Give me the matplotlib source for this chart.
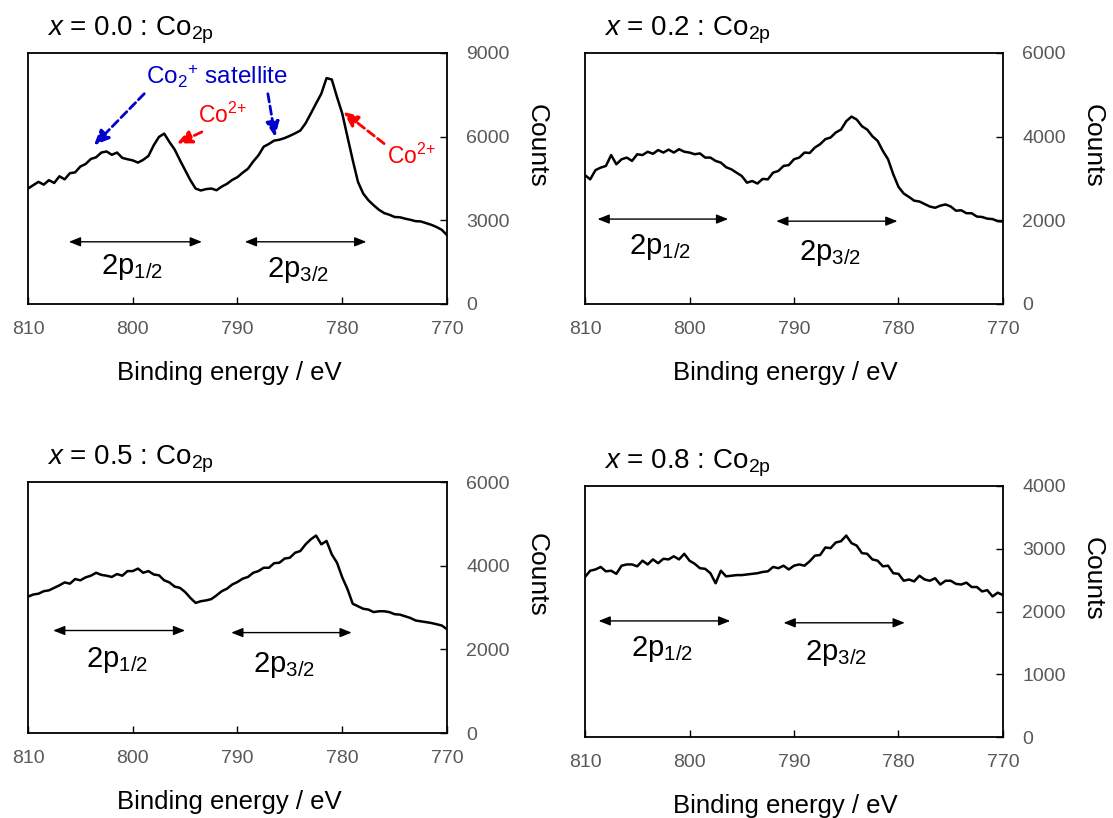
import matplotlib
matplotlib.use("Agg")
import matplotlib.pyplot as plt
import numpy as np

plt.rcParams['font.family'] = ['Liberation Sans', 'DejaVu Sans']
plt.rcParams['mathtext.fontset'] = 'custom'
plt.rcParams['mathtext.rm'] = 'Liberation Sans'
plt.rcParams['mathtext.it'] = 'Liberation Sans:italic'

# binding energy grid, 810 -> 770 eV in 0.5 eV steps
energy = np.linspace(810, 770, 81)

counts_x00 = [4140, 4260, 4380, 4280, 4440, 4340, 4580, 4470, 4690, 4720,
              4930, 5020, 5200, 5260, 5430, 5470, 5350, 5430, 5240, 5190,
              5150, 5070, 5170, 5310, 5690, 5990, 6110, 5810, 5540, 5160,
              4800, 4440, 4140, 4070, 4120, 4140, 4080, 4210, 4310, 4450,
              4550, 4710, 4850, 5110, 5330, 5640, 5740, 5860, 5890, 5950,
              6030, 6120, 6220, 6480, 6830, 7190, 7540, 8100, 8050, 7420,
              6830, 5990, 5160, 4380, 3960, 3720, 3540, 3380, 3260, 3200,
              3120, 3110, 3060, 3020, 2970, 2960, 2900, 2840, 2760, 2660,
              2470]
counts_x02 = [3080, 2980, 3200, 3260, 3300, 3560, 3340, 3460, 3500, 3420,
              3580, 3560, 3640, 3590, 3680, 3620, 3690, 3620, 3700, 3640,
              3620, 3580, 3600, 3500, 3500, 3420, 3380, 3270, 3220, 3140,
              3060, 2900, 2940, 2880, 2990, 2980, 3140, 3180, 3300, 3320,
              3460, 3500, 3620, 3610, 3740, 3820, 3940, 3980, 4100, 4170,
              4370, 4480, 4410, 4250, 4170, 4010, 3900, 3660, 3460, 3100,
              2800, 2640, 2560, 2470, 2450, 2390, 2330, 2300, 2350, 2380,
              2330, 2230, 2240, 2170, 2170, 2090, 2080, 2040, 2030, 1980,
              1970]
counts_x05 = [3260, 3310, 3330, 3390, 3410, 3470, 3530, 3600, 3570, 3680,
              3650, 3720, 3760, 3830, 3780, 3760, 3730, 3800, 3760, 3870,
              3870, 3930, 3830, 3870, 3790, 3770, 3650, 3600, 3500, 3470,
              3370, 3230, 3110, 3150, 3170, 3200, 3290, 3390, 3450, 3550,
              3610, 3690, 3730, 3830, 3870, 3950, 3950, 4060, 4070, 4170,
              4190, 4310, 4350, 4510, 4630, 4720, 4510, 4590, 4270, 4070,
              3720, 3440, 3090, 3030, 2970, 2950, 2890, 2910, 2910, 2890,
              2840, 2830, 2790, 2750, 2690, 2670, 2650, 2630, 2600, 2570,
              2480]
counts_x08 = [2550, 2650, 2670, 2710, 2640, 2650, 2600, 2730, 2750, 2750,
              2720, 2810, 2750, 2830, 2770, 2840, 2830, 2880, 2830, 2920,
              2810, 2760, 2690, 2680, 2610, 2450, 2650, 2560, 2570, 2580,
              2580, 2590, 2600, 2610, 2630, 2640, 2710, 2690, 2730, 2670,
              2730, 2750, 2730, 2800, 2890, 2900, 3020, 3010, 3100, 3120,
              3210, 3090, 3050, 2930, 2920, 2830, 2810, 2720, 2730, 2610,
              2600, 2490, 2510, 2480, 2570, 2510, 2490, 2530, 2430, 2490,
              2490, 2440, 2430, 2460, 2390, 2390, 2320, 2340, 2240, 2300,
              2260]

titles = ['0.0', '0.2', '0.5', '0.8']
ymax = [9000, 6000, 6000, 4000]
ystep = [3000, 2000, 2000, 1000]
# (start, end, y) of the 2p1/2 and 2p3/2 span arrows, and label positions
span_12 = [(806.1, 793.4, 2230), (808.8, 796.3, 2030), (807.6, 795.0, 2450), (808.7, 796.1, 1850)]
span_32 = [(789.3, 777.7, 2230), (791.7, 780.1, 1980), (790.6, 779.1, 2400), (791.0, 779.4, 1820)]
lab_12 = [(800.1, 1340), (802.8, 1370), (801.5, 1750), (802.6, 1400)]
lab_32 = [(784.2, 1220), (786.6, 1210), (785.6, 1630), (786.0, 1335)]

series = [counts_x00, counts_x02, counts_x05, counts_x08]

fig = plt.figure(figsize=(11.13, 8.18), dpi=100)
W, H = 1113, 818
boxes = [(28, 53, 447, 304), (585, 53, 1003, 304), (28, 482, 447, 733), (585, 486, 1003, 737)]

gray = '#595959'
span_style = dict(arrowstyle='<|-|>,head_width=0.28,head_length=0.7', color='black', lw=1, shrinkA=0, shrinkB=0)
for i in range(4):
    l, t, r, b = boxes[i]
    ax = fig.add_axes([l / W, 1 - b / H, (r - l) / W, (b - t) / H])
    ax.plot(energy, series[i], color='black', lw=1.8)
    ax.set_xlim(810, 770)
    ax.set_ylim(0, ymax[i])
    ax.set_xticks([810, 800, 790, 780, 770])
    ax.set_yticks(np.arange(0, ymax[i] + 1, ystep[i]))
    ax.yaxis.tick_right()
    ax.tick_params(axis='both', direction='in', length=5, width=1, labelsize=14, labelcolor=gray, pad=12)
    ax.tick_params(axis='y', left=False, right=True, pad=14)
    for s in ax.spines.values():
        s.set_linewidth(1.3)
    ax.set_xlabel('Binding energy / eV', fontsize=18.5, va='center')
    ax.xaxis.set_label_coords(0.48, -0.275)
    ax.yaxis.set_label_position('right')
    ax.set_ylabel('Counts', fontsize=19, rotation=-90, va='center')
    ax.yaxis.set_label_coords(1.215, 0.63)
    ax.text(0.045, 1.068, r'$\it{x}$ = ' + titles[i] + r' : Co$_{\rm 2p}$', transform=ax.transAxes,
            fontsize=20, va='baseline', ha='left')

    a = span_12[i]
    ax.annotate('', xy=(a[1], a[2]), xytext=(a[0], a[2]), arrowprops=span_style)
    a = span_32[i]
    ax.annotate('', xy=(a[1], a[2]), xytext=(a[0], a[2]), arrowprops=span_style)
    ax.text(lab_12[i][0], lab_12[i][1], r'2p$_{\rm 1/2}$', fontsize=21, ha='center', va='center')
    ax.text(lab_32[i][0], lab_32[i][1], r'2p$_{\rm 3/2}$', fontsize=21, ha='center', va='center')

    if i == 0:
        blue = '#0000CC'
        red = '#FF0000'
        ax.text(798.7, 8140, r'Co$_2$$^{+}$ satellite', color=blue, fontsize=17.5, ha='left', va='center')
        ax.text(791.4, 6770, r'Co$^{2{+}}$', color=red, fontsize=16.5, ha='center', va='center')
        ax.text(773.4, 5300, r'Co$^{2{+}}$', color=red, fontsize=16.5, ha='center', va='center')
        dash = dict(arrowstyle='-|>,head_width=0.4,head_length=0.9', lw=2, linestyle=(0, (3, 1.5)), shrinkA=0, shrinkB=0)
        ax.annotate('', xy=(803.7, 5690), xytext=(798.9, 7540), arrowprops=dict(color=blue, **dash))
        ax.annotate('', xy=(786.4, 5990), xytext=(787.1, 7540), arrowprops=dict(color=blue, **dash))
        ax.annotate('', xy=(795.8, 5750), xytext=(793.4, 6170), arrowprops=dict(color=red, **dash))
        ax.annotate('', xy=(779.9, 6890), xytext=(776.0, 5750), arrowprops=dict(color=red, **dash))

fig.savefig('out.png', dpi=100)
